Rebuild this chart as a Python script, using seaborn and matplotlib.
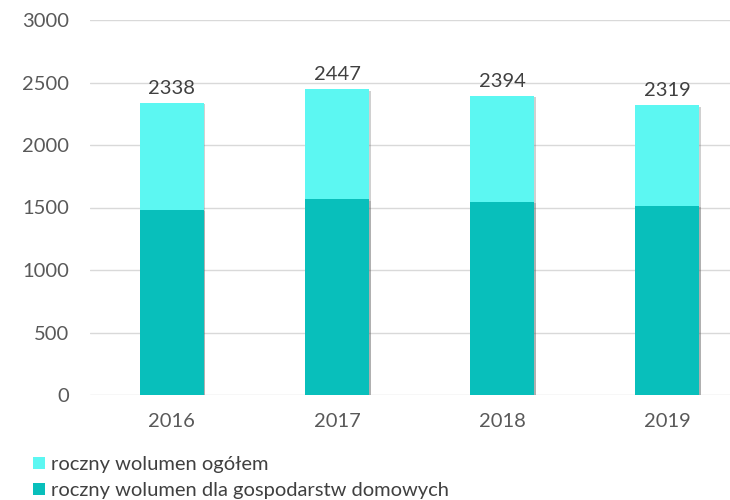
import matplotlib
matplotlib.use("Agg")
import matplotlib.pyplot as plt
import matplotlib.patheffects as pe
from matplotlib.patches import Patch
import seaborn as sns
import pandas as pd

years = ["2016", "2017", "2018", "2019"]
total_volume = [2338, 2447, 2394, 2319]
household_volume = [1480, 1565, 1545, 1512]
y_ticks = [0, 500, 1000, 1500, 2000, 2500, 3000]

label_total = "roczny wolumen ogółem"
label_house = "roczny wolumen dla gospodarstw domowych"
col_total = "#5CF7F2"
col_house = "#08BFBB"

sns.set_theme(style="white")
plt.rcParams["font.family"] = ["Lato", "DejaVu Sans"]

df = pd.DataFrame({"rok": years, "total": total_volume, "house": household_volume})

fig = plt.figure(figsize=(7.3, 5.0), dpi=100)
ax = fig.add_axes([0.123, 0.21, 0.877, 0.75])

shadow = [pe.SimplePatchShadow(offset=(1.0, -1.0), shadow_rgbFace="#666666", alpha=0.3), pe.Normal()]

sns.barplot(data=df, x="rok", y="total", color=col_total, width=0.39,
            saturation=1, ax=ax, zorder=3, linewidth=0, edgecolor="none")
sns.barplot(data=df, x="rok", y="house", color=col_house, width=0.39,
            saturation=1, ax=ax, zorder=4, linewidth=0, edgecolor="none")
for p in ax.patches:
    p.set_path_effects(shadow)

# value labels above the total bars
for i, v in enumerate(total_volume):
    ax.text(i, v + 45, f"{v}", ha="center", va="bottom", fontsize=14.5, color="#404040")

ax.set_ylim(0, 3000)
ax.set_yticks(y_ticks)
ax.set_xlim(-0.497, 3.38)
ax.yaxis.grid(True, color="#D9D9D9", linewidth=1.0, zorder=0)
ax.set_axisbelow(True)
for s in ax.spines.values():
    s.set_visible(False)
ax.set_xlabel("")
ax.set_ylabel("")
ax.tick_params(axis="y", length=0, pad=15, labelsize=14.5, labelcolor="#595959")
ax.tick_params(axis="x", length=0, pad=13, labelsize=14.5, labelcolor="#595959")

handles = [Patch(facecolor=col_total, edgecolor="none"),
           Patch(facecolor=col_house, edgecolor="none")]
fig.legend(handles, [label_total, label_house], loc="lower left",
           bbox_to_anchor=(0.021, -0.035), frameon=False, fontsize=14.5,
           handlelength=0.55, handleheight=0.55, handletextpad=0.3,
           labelspacing=0.45, labelcolor="#404040")

fig.savefig("out.png", dpi=100)
